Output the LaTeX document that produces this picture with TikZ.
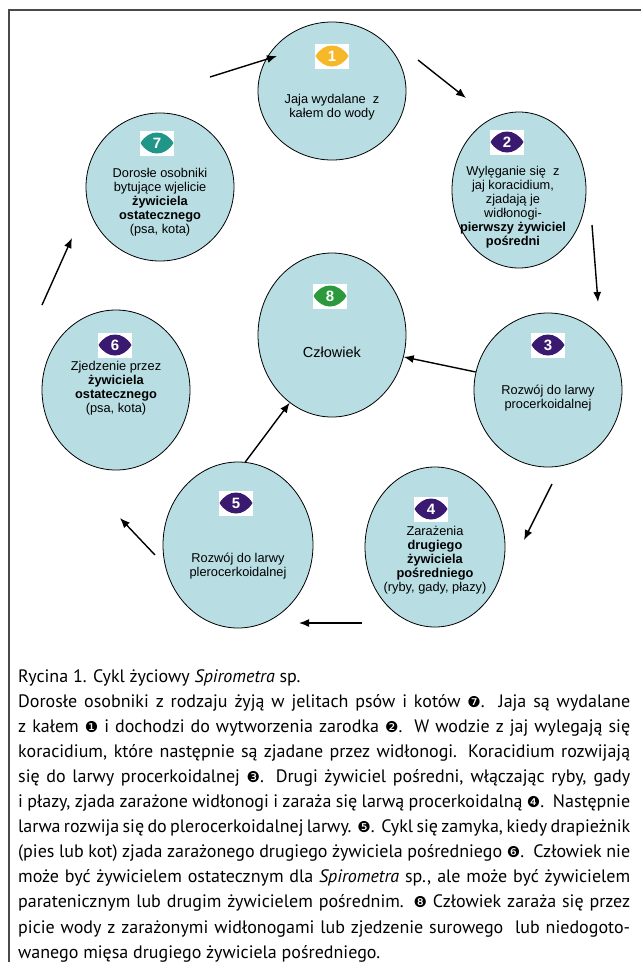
\documentclass[tikz,border=0pt]{standalone}
\usepackage{fontspec}
\setmainfont{Liberation Sans}
\newfontfamily\capfont{PT Sans}
\newfontfamily\dingfont{DejaVu Sans}
\usetikzlibrary{shapes.geometric, arrows.meta, positioning}
\definecolor{stagefill}{HTML}{B8DEE3}
\definecolor{numyellow}{HTML}{F6B829}
\definecolor{numpurple}{HTML}{3A1A70}
\definecolor{numteal}{HTML}{1F9688}
\definecolor{numgreen}{HTML}{2C9A3C}
\definecolor{framegray}{HTML}{4A4A4A}
\newcommand\cnum[1]{{\dingfont\fontsize{15}{25.1}\selectfont #1}}

\begin{document}
\begin{tikzpicture}[x=1pt, y=-1pt, font=\fontsize{12.8}{14}\selectfont,
    stage/.style={draw, ellipse, fill=stagefill, inner sep=0pt, line width=0.8pt},
    stagetext/.style={align=center, inner sep=0pt},
    arrow/.style={-{Latex[length=10pt, width=8pt]}, line width=1.4pt},
    pics/badge/.style 2 args={code={
        \fill[white] (-17,-12.5) rectangle (17,12.5);
        \fill[#1] (-16.5,0) .. controls (-8,-14) and (8,-14) .. (16.5,0)
                  .. controls (8,14) and (-8,14) .. (-16.5,0) -- cycle;
        \node[text=white, inner sep=0pt, font=\fontsize{15}{15}\selectfont\bfseries] (-num) at (0,0) {#2};
    }}]
    \useasboundingbox (0,0) rectangle (641,962);
    \draw[framegray, line width=1.2pt] (641,10) -- (9,10) -- (9,962);

    % stages of the cycle
    \node[stage, minimum width=148pt, minimum height=138pt] (s1) at (332,91) {};
    \node[stage, minimum width=134pt, minimum height=156pt] (s2) at (519,190) {};
    \node[stage, minimum width=148pt, minimum height=154pt] (s3) at (548,390) {};
    \node[stage, minimum width=140pt, minimum height=160pt] (s4) at (435,547) {};
    \node[stage, minimum width=150pt, minimum height=166pt] (s5) at (238,545) {};
    \node[stage, minimum width=148pt, minimum height=160pt] (s6) at (116,390) {};
    \node[stage, minimum width=148pt, minimum height=148pt] (s7) at (160,187) {};
    \node[stage, minimum width=148pt, minimum height=164pt] (s8) at (332,335) {};

    \pic (b1) at (332,56) {badge={numyellow}{1}};
    \pic (b2) at (507,142) {badge={numpurple}{2}};
    \pic (b3) at (548,345) {badge={numpurple}{3}};
    \pic (b4) at (431,509) {badge={numpurple}{4}};
    \pic (b5) at (236,503) {badge={numpurple}{5}};
    \pic (b6) at (115,345) {badge={numpurple}{6}};
    \pic (b7) at (157,143) {badge={numteal}{7}};
    \pic (b8) at (330,296) {badge={numgreen}{8}};

    \node[stagetext] (t1) at (332,107) {Jaja wydalane \ z\\kałem do wody};
    \node[stagetext] (t2) at (513,207) {Wylęganie się \ z\\jaj koracidium,\\zjadają je\\widłonogi-\\\textbf{pierwszy żywiciel}\\\textbf{pośredni}};
    \node[stagetext] (t3) at (548,398) {Rozwój do larwy\\procerkoidalnej};
    \node[stagetext] (t4) at (435,560) {Zarażenia\\\textbf{drugiego}\\\textbf{żywiciela}\\\textbf{pośredniego}\\(ryby, gady, płazy)};
    \node[stagetext] (t5) at (238,566) {Rozwój do larwy\\plerocerkoidalnej};
    \node[stagetext] (t6) at (116,388) {Zjedzenie przez\\\textbf{żywiciela}\\\textbf{ostatecznego}\\(psa, kota)};
    \node[stagetext] (t7) at (160,202) {Dorosłe osobniki\\bytujące wjelicie\\\textbf{żywiciela}\\\textbf{ostatecznego}\\(psa, kota)};
    \node[stagetext, font=\fontsize{14.5}{16}\selectfont] (t8) at (332,352) {Człowiek};

    % cycle arrows
    \draw[arrow] ([shift={(86,-31)}]s1.center) -- ([shift={(-53,-92)}]s2.center);
    \draw[arrow] ([shift={(73,35)}]s2.center) -- ([shift={(50,-88)}]s3.center);
    \draw[arrow] ([shift={(4,94)}]s3.center) -- ([shift={(89,-7)}]s4.center);
    \draw[arrow] ([shift={(-73,76)}]s4.center) -- ([shift={(61,78)}]s5.center);
    \draw[arrow] ([shift={(-83,10)}]s5.center) -- ([shift={(4,128)}]s6.center);
    \draw[arrow] ([shift={(-74,-85)}]s6.center) -- ([shift={(-88,51)}]s7.center);
    \draw[arrow] ([shift={(50,-110)}]s7.center) -- ([shift={(-55,-35)}]s1.center);
    % to the human
    \draw[arrow] (s3.166) -- (s8.-17);
    \draw[arrow] (s5.85) -- (s8.-122);

    \node[anchor=base west, inner sep=0pt, text width=612pt, align=justify,
          font=\capfont\fontsize{18}{25.1}\selectfont] (cap) at (18,682) {%
      Rycina 1. Cykl życiowy \textit{Spirometra} sp.\\
      Dorosłe osobniki z rodzaju żyją w jelitach psów i kotów \cnum{❼}.\ \ Jaja są wydalane\linebreak
      z kałem \cnum{❶} i dochodzi do wytworzenia zarodka \cnum{❷}.\ \ W wodzie z jaj wylegają się\linebreak
      koracidium, które następnie są zjadane przez widłonogi. Koracidium rozwijają\linebreak
      się do larwy procerkoidalnej \cnum{❸}. Drugi żywiciel pośredni, włączając ryby, gady\linebreak
      i płazy, zjada zarażone widłonogi i zaraża się larwą procerkoidalną \cnum{❹}.\ \ Następnie\linebreak
      larwa rozwija się do plerocerkoidalnej larwy. \cnum{❺}.\ \ Cykl się zamyka, kiedy drapieżnik\linebreak
      (pies lub kot) zjada zarażonego drugiego żywiciela pośredniego \cnum{❻}.\ \ Człowiek nie\linebreak
      może być żywicielem ostatecznym dla \textit{Spirometra} sp., ale może być żywicielem\linebreak
      paratenicznym lub drugim żywicielem pośrednim. \cnum{❽} Człowiek zaraża się przez\linebreak
      picie wody z zarażonymi widłonogami lub zjedzenie surowego \ lub niedogoto-\linebreak
      wanego mięsa drugiego żywiciela pośredniego.};
\end{tikzpicture}
\end{document}
